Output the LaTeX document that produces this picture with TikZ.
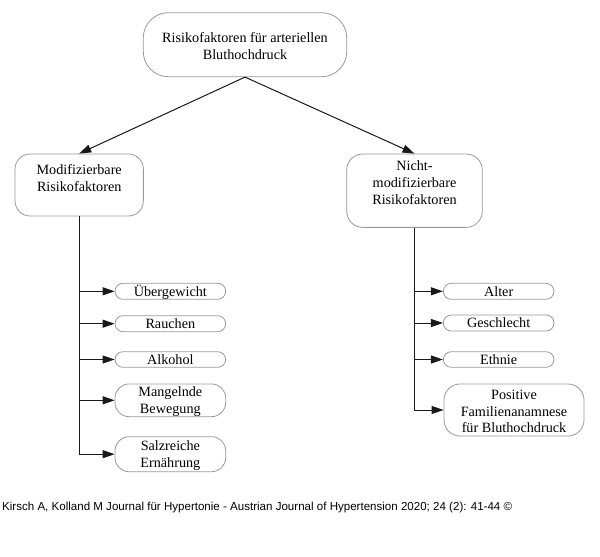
\documentclass[tikz,border=0pt]{standalone}
\usepackage{fontspec}
\usepackage{graphicx}
\setmainfont{Liberation Serif}
\newfontfamily\footfont{Liberation Sans}
\usetikzlibrary{arrows.meta}
\newcommand{\bt}[2]{\raisebox{#1}[0pt][0pt]{\begin{tabular}[t]{@{}c@{}}#2\end{tabular}}}
\begin{document}
\begin{tikzpicture}[x=1pt,y=-1pt,
  box/.style={draw=black!40,line width=0.8pt,rectangle,inner sep=0pt,
    font=\fontsize{14.2}{17}\selectfont},
  sbox/.style={box,font=\fontsize{14.2}{16.5}\selectfont,rounded corners=8pt},
  conn/.style={line width=1pt,draw=black!90},
  arr/.style={conn,-{Triangle[length=12pt,width=8pt]}}]
\useasboundingbox (0,0) rectangle (600,557);
\node[box,rounded corners=25pt,minimum width=203.4pt,minimum height=64pt] (top) at (245,44.7)
  {\bt{2.4pt}{Risikofaktoren für arteriellen\\Bluthochdruck}};
\node[box,rounded corners=15pt,minimum width=128.3pt,minimum height=62pt] (left) at (79.2,185)
  {\bt{11pt}{Modifizierbare\\Risikofaktoren}};
\node[box,rounded corners=16pt,minimum width=135.6pt,minimum height=73.3pt] (right) at (414.5,190.7)
  {\bt{20.7pt}{Nicht-\\modifizierbare\\Risikofaktoren}};
% left items
\node[sbox,minimum width=110.7pt,minimum height=16pt] (ueber) at (170.35,291.3) {\bt{-4.7pt}{Übergewicht}};
\node[sbox,minimum width=110.7pt,minimum height=16pt] (rauch) at (170.35,323.7) {\bt{-4.7pt}{Rauchen}};
\node[sbox,minimum width=110.7pt,minimum height=15.6pt] (alk) at (170.35,359.5) {\bt{-4.7pt}{Alkohol}};
\node[sbox,rounded corners=14pt,minimum width=110.7pt,minimum height=32.7pt] (mang) at (170.35,400.3) {\bt{3.6pt}{Mangelnde\\Bewegung}};
\node[sbox,rounded corners=14pt,minimum width=110.7pt,minimum height=35pt] (salz) at (170.35,454.2) {\bt{3.6pt}{Salzreiche\\Ernährung}};
% right items
\node[sbox,minimum width=110.7pt,minimum height=16pt] (alter) at (498.65,291.3) {\bt{-4.7pt}{Alter}};
\node[sbox,minimum width=110.7pt,minimum height=16pt] (geschl) at (498.65,323) {\bt{-4.7pt}{Geschlecht}};
\node[sbox,minimum width=110.7pt,minimum height=15.6pt] (ethn) at (498.65,359.5) {\bt{-4.7pt}{Ethnie}};
\node[sbox,rounded corners=16pt,minimum width=140pt,minimum height=52pt] (pos) at (514,410) {\bt{10.2pt}{Positive\\Familienanamnese\\für Bluthochdruck}};
% connectors
\draw[arr] (top.south) -- (left.north);
\draw[arr] (top.south) -- (right.north);
\draw[arr] (left.south) |- (salz.west);
\foreach \n in {ueber,rauch,alk,mang} \draw[arr] (left.south |- \n.west) -- (\n.west);
\draw[arr] (right.south) |- (pos.west);
\foreach \n in {alter,geschl,ethn} \draw[arr] (right.south |- \n.west) -- (\n.west);
% footer
\node[anchor=base west,inner sep=0pt] (foot) at (2,510.5)
  {\resizebox{510pt}{!}{\footfont Kirsch A, Kolland M Journal für Hypertonie - Austrian Journal of Hypertension 2020; 24 (2): 41-44 ©}};
\end{tikzpicture}
\end{document}
